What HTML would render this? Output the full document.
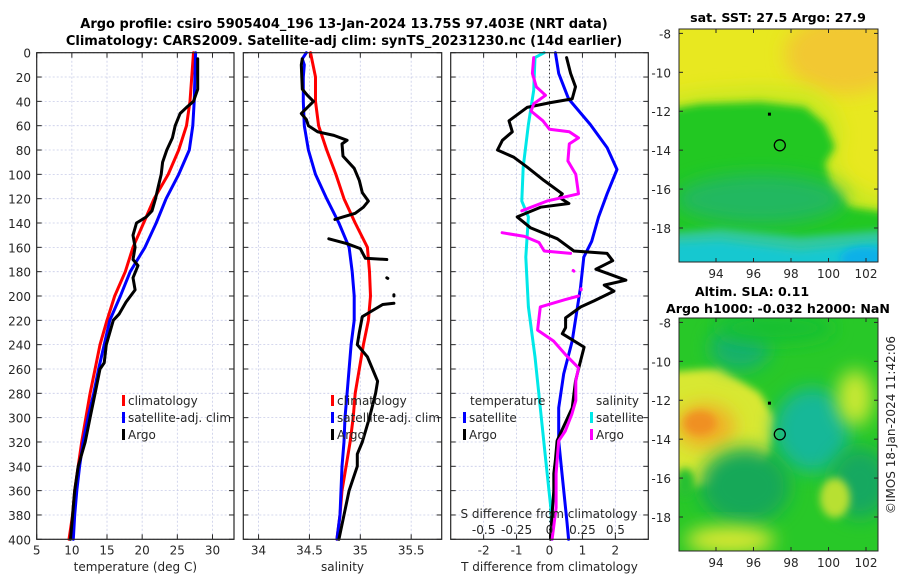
<!DOCTYPE html>
<html><head><meta charset="utf-8">
<style>
body{margin:0;background:#fff;}
svg{display:block;font-family:"DejaVu Sans","Liberation Sans",sans-serif;}
.t{font-size:12px;fill:#262626;}
.b{font-size:12.6px;font-weight:bold;fill:#000;}
.bt{font-size:13px;font-weight:bold;fill:#000;}
</style></head>
<body>
<svg id="chart" width="900" height="580" viewBox="0 0 900 580"></svg>
<script>
// ---------- data ----------
const depthTicks=[0,20,40,60,80,100,120,140,160,180,200,220,240,260,280,300,320,340,360,380,400];
const tempTicks=[5,10,15,20,25,30];
const salTicks=[34,34.5,35,35.5];
const tdTicks=[-2,-1,0,1,2];
const sdTicks=[-0.5,-0.25,0,0.25,0.5];
const sdTickLabels=["-0.5","-0.25","0","0.25","0.5"];
// temperature profiles [depth, value]
const tempClim=[[0,27.3],[40,26.8],[60,26.3],[80,25.2],[100,23.7],[120,21.7],[140,20.2],[160,18.7],[180,17.6],[200,16.1],[220,15.0],[240,14.0],[260,13.3],[280,12.6],[300,12.0],[320,11.4],[340,10.9],[360,10.4],[380,10.1],[400,9.6]];
const tempSat=[[0,27.6],[40,27.4],[60,27.2],[80,26.7],[100,25.2],[120,23.4],[140,22.0],[160,20.4],[180,18.3],[200,16.9],[220,15.4],[240,14.6],[260,13.8],[280,13.1],[300,12.3],[320,11.6],[340,11.1],[360,10.7],[380,10.4],[400,10.2]];
const tempArgo=[[5,27.9],[30,27.9],[40,27.3],[45,26.3],[50,25.4],[60,24.7],[70,24.3],[80,23.5],[90,22.9],[100,22.7],[110,22.3],[120,21.9],[130,21.4],[135,20.6],[140,19.2],[150,18.7],[160,19.0],[170,18.7],[175,19.4],[185,18.7],[195,19.0],[205,17.7],[215,16.7],[220,15.9],[240,14.9],[255,14.6],[260,14.0],[280,13.3],[300,12.6],[320,11.9],[340,10.9],[360,10.4],[380,10.1],[400,9.8]];
// salinity profiles
const salClim=[[0,34.51],[20,34.56],[40,34.56],[60,34.59],[80,34.67],[100,34.76],[120,34.84],[140,34.95],[160,35.07],[180,35.09],[200,35.10],[220,35.08],[240,35.03],[260,34.99],[280,34.95],[300,34.93],[320,34.90],[340,34.86],[360,34.82],[380,34.80],[400,34.77]];
const salSat=[[0,34.47],[5,34.43],[10,34.45],[20,34.44],[40,34.44],[60,34.45],[80,34.49],[100,34.56],[120,34.67],[140,34.79],[160,34.89],[180,34.92],[200,34.94],[220,34.94],[240,34.91],[260,34.89],[280,34.87],[300,34.85],[320,34.84],[340,34.82],[360,34.81],[380,34.80],[400,34.77]];
const salArgo=[[5,34.43],[10,34.42],[30,34.43],[35,34.48],[40,34.54],[45,34.48],[50,34.42],[55,34.47],[60,34.49],[65,34.58],[68,34.74],[72,34.87],[75,34.82],[85,34.83],[95,34.94],[105,34.99],[115,35.02],[122,35.08],[127,35.03],[132,34.95],[135,34.83],[137,34.75],null,[153,34.69],[157,34.87],[161,35.0],[169,35.05],[170,35.26],null,[185,35.26],[185.5,35.27],null,[199,35.33],[200,35.33],null,[206,35.33],[207,35.22],[214,35.08],[217,35.02],[230,34.99],[240,34.97],[250,35.07],[260,35.12],[270,35.17],[280,35.15],[300,35.09],[320,35.02],[330,34.97],[340,34.97],[360,34.89],[380,34.84],[400,34.79]];
// differences from climatology
const tdSat=[[0,0.18],[17,0.28],[38,0.58],[59,1.24],[78,1.75],[96,2.05],[116,1.75],[135,1.49],[155,1.28],[168,1.04],[193,0.94],[237,0.69],[264,0.43],[292,0.28],[319,0.28],[346,0.38],[386,0.53],[400,0.58]];
const sdSat=[[0,-0.04],[4,-0.11],[31,-0.12],[59,-0.16],[94,-0.20],[122,-0.21],[135,-0.16],[168,-0.18],[209,-0.16],[250,-0.11],[292,-0.07],[333,-0.03],[374,0.01],[400,0.02]];
const tdArgo=[[4,0.52],[17,0.64],[28,0.79],[38,0.69],[41,0.03],[45,-0.68],[49,-0.88],[56,-1.23],[65,-1.13],[72,-1.43],[80,-1.58],[86,-1.08],[94,-0.68],[105,-0.17],[116,0.39],[119,0.3],[124,0.59],[127,-0.27],[135,-0.98],[144,-0.57],[153,0.24],[163,0.74],[165,1.75],[171,1.92],[178,1.41],[183,1.92],[187,2.32],[191,1.66],[196,1.96],[204,1.35],[209,0.95],[218,0.49],[226,0.49],[231,0.39],[242,1.05],[259,0.89],[270,0.79],[292,0.69],[313,0.33],[319,0.23],[335,0.18],[346,0.13],[360,0.13],[379,0.08],[400,0.03]];
const sdArgo=[[4,-0.12],[17,-0.13],[28,-0.10],[35,-0.03],[42,-0.12],[48,-0.14],[56,-0.05],[63,0.0],[65,0.15],[70,0.22],[75,0.15],[89,0.14],[100,0.2],[116,0.22],[122,-0.02],[130,-0.21],null,[148,-0.36],[151,-0.19],[156,-0.08],[163,-0.04],[165,0.16],null,[179,0.18],[179.5,0.185],null,[194,0.24],[195,0.24],null,[200,0.22],[203,0.12],[209,-0.07],[218,-0.08],[228,-0.09],[237,0.03],[248,0.12],[259,0.22],[270,0.2],[286,0.2],[297,0.17],[311,0.12],[319,0.07],[346,0.05],[374,0.05],[400,0.02]];
// map ticks and markers
const lonTicks=[94,96,98,100,102];
const latTicks=[-8,-10,-12,-14,-16,-18];
const argoPos=[97.403,-13.75];
const prevPos=[96.85,-12.15];

// ---------- helpers ----------
const NS="http://www.w3.org/2000/svg";
const svg=document.getElementById('chart');
function el(tag,attrs,parent,text){const e=document.createElementNS(NS,tag);for(const k in attrs)e.setAttribute(k,attrs[k]);if(text!==undefined)e.textContent=text;(parent||svg).appendChild(e);return e;}
const TOP=52.7,BOT=539.3;
const yD=d=>TOP+(BOT-TOP)*d/400;
function lin(d0,d1,r0,r1){return v=>r0+(v-d0)*(r1-r0)/(d1-d0);}
const P1={x0:36.7,x1:234,sx:lin(5,33.06,36.7,234)};
const P2={x0:243.3,x1:441.7,sx:lin(33.85,35.8,243.3,441.7)};
const P3={x0:450.7,x1:648.3,sx:lin(-3,3,450.7,648.3)};
const sxS=v=>P3.sx(v*4);

function panelFrame(P,xt,xlab,name,fmt){
  const g=el('g',{},svg);
  
  
  el('rect',{x:P.x0,y:TOP,width:P.x1-P.x0,height:BOT-TOP,fill:'#fff'},g);
  depthTicks.forEach(d=>{
    el('line',{x1:P.x0,x2:P.x1,y1:yD(d),y2:yD(d),stroke:'#c8cce8','stroke-width':0.8,'stroke-dasharray':'2,2'},g);
    el('line',{x1:P.x0,x2:P.x0+5,y1:yD(d),y2:yD(d),stroke:'#262626'},g);
    el('line',{x1:P.x1-5,x2:P.x1,y1:yD(d),y2:yD(d),stroke:'#262626'},g);
  });
  xt.forEach((v,i)=>{
    const x=P.sx(v);
    el('line',{x1:x,x2:x,y1:TOP,y2:BOT,stroke:'#c8cce8','stroke-width':0.8,'stroke-dasharray':'2,2'},g);
    el('line',{x1:x,x2:x,y1:BOT,y2:BOT-5,stroke:'#262626'},g);
    el('line',{x1:x,x2:x,y1:TOP,y2:TOP+5,stroke:'#262626'},g);
    const t=el('text',{x:x,y:BOT+15,'text-anchor':'middle',class:'t'},g,fmt?fmt(v,i):String(v));
    
    
  });
  const xl=el('text',{x:(P.x0+P.x1)/2,y:571,'text-anchor':'middle',class:'t'},g,xlab);
  
  
  return g;
}
function series(data,sx,color,name,w){
  let d='',pen=false;
  data.forEach(p=>{
    if(!p){pen=false;return;}
    d+=(pen?'L':'M')+sx(p[1]).toFixed(1)+','+yD(p[0]).toFixed(1);pen=true;
  });
  const pth=el('path',{d:d,fill:'none',stroke:color,'stroke-width':w||3,'stroke-linejoin':'round','stroke-linecap':'round'});
  
  
}
function border(P){el('rect',{x:P.x0,y:TOP,width:P.x1-P.x0,height:BOT-TOP,fill:'none',stroke:'#262626','stroke-width':1.2});}
function legendItem(x,y,color,label,name){
  const g=el('g',{});
  
  
  el('rect',{x:x,y:y-10,width:3,height:11,fill:color},g);
  el('text',{x:x+6,y:y,class:'t',fill:'#000'},g,label);
}

// ---------- titles ----------
const t1=el('text',{x:344,y:28,'text-anchor':'middle',class:'bt'},svg,'Argo profile: csiro 5905404_196 13-Jan-2024 13.75S 97.403E (NRT data)');


const t2=el('text',{x:344,y:45,'text-anchor':'middle',class:'bt'},svg,'Climatology: CARS2009. Satellite-adj clim: synTS_20231230.nc (14d earlier)');



// ---------- panel 1 ----------
panelFrame(P1,tempTicks,'temperature (deg C)','temperature-panel');
depthTicks.forEach(d=>{
  const t=el('text',{x:31,y:yD(d)+5,'text-anchor':'end',class:'t'},svg,String(d));
  
  
});
series(tempClim,P1.sx,'#ff0000','temp-climatology-line');
series(tempSat,P1.sx,'#0000ff','temp-satellite-line');
series(tempArgo,P1.sx,'#000000','temp-argo-line');
legendItem(122,405,'#ff0000','climatology','legend-climatology');
legendItem(122,422,'#0000ff','satellite-adj. clim','legend-satellite');
legendItem(122,439,'#000000','Argo','legend-argo');
border(P1);

// ---------- panel 2 ----------
panelFrame(P2,salTicks,'salinity','salinity-panel');
series(salClim,P2.sx,'#ff0000','sal-climatology-line');
series(salSat,P2.sx,'#0000ff','sal-satellite-line');
series(salArgo,P2.sx,'#000000','sal-argo-line');
legendItem(331,405,'#ff0000','climatology','legend-climatology-sal');
legendItem(331,422,'#0000ff','satellite-adj. clim','legend-satellite-sal');
legendItem(331,439,'#000000','Argo','legend-argo-sal');
border(P2);

// ---------- panel 3 ----------
panelFrame(P3,tdTicks,'T difference from climatology','difference-panel');
el('line',{x1:P3.sx(0),x2:P3.sx(0),y1:TOP,y2:BOT,stroke:'#333','stroke-width':1,'stroke-dasharray':'1.5,2.5'});
series(sdSat,sxS,'#00e8e8','sal-diff-satellite-line');
series(tdSat,P3.sx,'#0000ff','temp-diff-satellite-line');
series(tdArgo,P3.sx,'#000000','temp-diff-argo-line');
series(sdArgo,sxS,'#ff00ff','sal-diff-argo-line');
const tl=el('text',{x:470,y:405,class:'t',fill:'#000'},svg,'temperature');


const sl=el('text',{x:596,y:405,class:'t',fill:'#000'},svg,'salinity');


legendItem(463,422,'#0000ff','satellite','legend-temp-satellite');
legendItem(463,439,'#000000','Argo','legend-temp-argo');
legendItem(590,422,'#00e8e8','satellite','legend-sal-satellite');
legendItem(590,439,'#ff00ff','Argo','legend-sal-argo');
const sdt=el('text',{x:549,y:518,'text-anchor':'middle',class:'t'},svg,'S difference from climatology');


sdTicks.forEach((v,i)=>{
  const t=el('text',{x:sxS(v),y:534,'text-anchor':'middle',class:'t'},svg,sdTickLabels[i]);
  
  
});
border(P3);

// ---------- maps ----------
const defs=el('defs',{});
el('filter',{id:'bl',x:'-50%',y:'-50%',width:'200%',height:'200%'},defs);
el('feGaussianBlur',{stdDeviation:'9'},defs.lastChild);
el('filter',{id:'bl2',x:'-50%',y:'-50%',width:'200%',height:'200%'},defs);
el('feGaussianBlur',{stdDeviation:'4'},defs.lastChild);
const MX0=679,MX1=878;
const lonX=lin(94,102,716,866);
function makeMap(y0,name,shapes,base,clipId){
  const y1=y0+233;
  const latY=lin(-8,-18,y0+4.4,y0+199);
  const cp=el('clipPath',{id:clipId},defs);
  el('rect',{x:MX0,y:y0,width:MX1-MX0,height:y1-y0},cp);
  const g=el('g',{'clip-path':'url(#'+clipId+')'});
  
  
  el('rect',{x:MX0,y:y0,width:MX1-MX0,height:y1-y0,fill:base},g);
  shapes.forEach(b=>{
    if(b[0]==='p'){
      const pts=b[1].map(p=>p[0]+','+(y0+p[1])).join(' ');
      el('polygon',{points:pts,fill:b[2],filter:'url(#'+(b[3]||'bl2')+')'},g);
    } else {
      el('ellipse',{cx:b[0],cy:y0+b[1],rx:b[2],ry:b[3],fill:b[4],filter:'url(#'+(b[5]||'bl')+')'},g);
    }
  });
  el('rect',{x:MX0,y:y0,width:MX1-MX0,height:y1-y0,fill:'none',stroke:'#262626'});
  lonTicks.forEach(v=>{
    el('line',{x1:lonX(v),x2:lonX(v),y1:y1,y2:y1-4,stroke:'#262626'});
    el('line',{x1:lonX(v),x2:lonX(v),y1:y0,y2:y0+4,stroke:'#262626'});
    const t=el('text',{x:lonX(v),y:y1+16,'text-anchor':'middle',class:'t'},svg,String(v));
    
    
  });
  latTicks.forEach(v=>{
    el('line',{x1:MX0,x2:MX0+4,y1:latY(v),y2:latY(v),stroke:'#262626'});
    el('line',{x1:MX1-4,x2:MX1,y1:latY(v),y2:latY(v),stroke:'#262626'});
    const t=el('text',{x:671,y:latY(v)+5,'text-anchor':'end',class:'t'},svg,String(v));
    
    
  });
  const c=el('circle',{cx:lonX(argoPos[0]),cy:latY(argoPos[1]),r:5.5,fill:'none',stroke:'#000','stroke-width':1.3});
  
  
  const s=el('rect',{x:lonX(prevPos[0])-1.5,y:latY(prevPos[1])-1.5,width:3,height:3,fill:'#000'});
  
  
}
makeMap(29,'sst-map',[
  [845,25,60,40,'#f2c830'],
  ['p',[[660,70],[700,62],[760,58],[810,62],[832,78],[842,105],[835,130],[845,150],[870,165],[900,170],[900,260],[660,260]],'#c8e820','bl'],
  ['p',[[660,82],[700,75],[760,73],[805,78],[825,95],[835,118],[825,135],[832,160],[850,178],[900,185],[900,260],[660,260]],'#20c820'],
  [760,170,85,25,'#20b860'],
  ['p',[[660,205],[720,200],[800,208],[900,200],[900,260],[660,260]],'#30c8a0'],
  ['p',[[660,215],[720,212],[800,222],[900,212],[900,260],[660,260]],'#18c8d0'],
  [865,230,25,12,'#10b0e8','bl2']
],'#e8e820','clipTop');
makeMap(318,'sla-map',[
  ['p',[[660,55],[720,50],[760,75],[775,100],[770,135],[750,165],[660,170]],'#d8e830'],
  [705,108,30,22,'#f0b028'],[700,105,16,12,'#f09020','bl2'],
  [740,30,30,22,'#18b070'],[775,10,60,15,'#18c030'],
  [812,112,38,42,'#18b898'],
  [745,168,45,38,'#18a858'],[860,165,30,35,'#18a860'],
  [855,80,18,28,'#c8e830'],[835,180,15,20,'#b8e030','bl2'],
  [730,222,45,14,'#d8e830'],[685,165,10,15,'#28c030','bl2']
],'#28c828','clipBot');

const mt1=el('text',{x:778,y:22,'text-anchor':'middle',class:'b'},svg,'sat. SST: 27.5 Argo: 27.9');


const mt2=el('text',{x:752,y:296,'text-anchor':'middle',class:'b'},svg,'Altim. SLA: 0.11');


const mt3=el('text',{x:778,y:313,'text-anchor':'middle',class:'b'},svg,'Argo h1000: -0.032 h2000: NaN');


const cr=el('text',{x:0,y:0,'text-anchor':'middle',class:'t',transform:'translate(895,425) rotate(-90)'},svg,'©IMOS 18-Jan-2024 11:42:06');


</script>
</body></html>
